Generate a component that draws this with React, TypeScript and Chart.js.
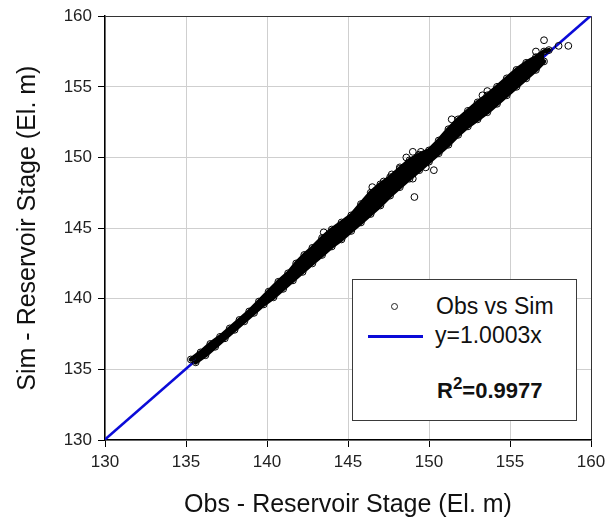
import React, { useEffect, useRef } from 'react';
import { Chart, registerables } from 'chart.js';

Chart.register(...registerables);

// Axis ticks
const axisMin = 130;
const axisMax = 160;
const tickStep = 5;

const upperObs = [135.3, 135.9, 136.5, 137.1, 137.7, 138.3, 138.9, 139.5, 140.1, 140.7, 141.3, 141.8, 142.3, 142.8, 143.4, 144.0, 144.6, 145.2, 145.8, 146.4, 147.0, 147.6, 148.2, 148.8, 149.4, 150.0, 150.6, 151.2, 151.8, 152.4, 153.0, 153.6, 154.2, 154.8, 155.4, 156.0, 156.6, 157.1, 157.4];
const upperSim = [135.7, 136.2, 136.8, 137.3, 137.9, 138.5, 139.1, 139.8, 140.5, 141.2, 141.8, 142.5, 143.1, 143.6, 144.3, 144.9, 145.4, 145.9, 146.7, 147.5, 148.1, 148.6, 149.2, 149.8, 150.2, 150.5, 151.2, 152.0, 152.7, 153.3, 153.9, 154.4, 155.0, 155.6, 156.2, 156.7, 157.1, 157.5, 157.6];

// Lower envelope of the cloud
const lowerObs = [135.6, 136.2, 136.8, 137.4, 138.0, 138.6, 139.2, 139.8, 140.4, 141.0, 141.6, 142.2, 142.8, 143.4, 144.0, 144.6, 145.2, 145.8, 146.4, 147.0, 147.6, 148.2, 148.8, 149.4, 150.0, 150.6, 151.2, 151.8, 152.4, 153.0, 153.6, 154.2, 154.8, 155.4, 156.0, 156.6, 157.1];
const lowerSim = [135.5, 136.0, 136.6, 137.2, 137.8, 138.4, 139.0, 139.6, 140.1, 140.7, 141.3, 141.9, 142.5, 143.1, 143.7, 144.2, 144.8, 145.4, 146.0, 146.6, 147.3, 147.9, 148.5, 149.1, 149.7, 150.3, 150.9, 151.6, 152.2, 152.7, 153.2, 153.8, 154.4, 155.0, 155.6, 156.2, 156.8];

// Isolated points
const outlierObs = [147.7, 148.2, 148.6, 149.0, 149.5, 149.0, 149.8, 150.3, 149.1, 157.1, 158.0, 158.6, 153.3, 153.6, 147.2, 146.5, 156.6, 143.5, 151.4];
const outlierSim = [148.8, 149.3, 150.0, 150.4, 150.4, 148.5, 149.3, 149.1, 147.2, 158.3, 157.9, 157.9, 154.4, 154.7, 148.3, 147.9, 157.5, 144.7, 152.7];

// Fitted line y = 1.0003x
const fitObs = [130, 160];
const fitSim = [130.04, 160.05];

const FONT = 'Arial, "Liberation Sans", sans-serif';

const pts = (xs: number[], ys: number[]) => xs.map((x, i) => ({ x, y: ys[i] }));

export default function App() {
  const canvasRef = useRef<HTMLCanvasElement | null>(null);

  useEffect(() => {
    document.body.style.margin = '0';
    const canvas = canvasRef.current;
    if (!canvas) return;

    const allPoints = [
      ...pts(upperObs, upperSim),
      ...pts(lowerObs, lowerSim),
      ...pts(outlierObs, outlierSim),
    ];

    const gridColor = (ctx: any) =>
      ctx.tick && ctx.tick.value === axisMax ? '#333333' : '#cfcfcf';

    const edgeLine = {
      borderColor: '#000000',
      borderWidth: 4.5,
      borderJoinStyle: 'round',
      borderCapStyle: 'round',
      pointRadius: 0,
      tension: 0,
    };

    const chart = new Chart(canvas, {
      type: 'line',
      data: {
        datasets: [
          {
            label: 'Obs vs Sim',
            data: allPoints,
            showLine: false,
            pointStyle: 'circle',
            pointRadius: 3.4,
            pointBorderWidth: 1,
            pointBorderColor: '#000000',
            pointBackgroundColor: 'rgba(255,255,255,0)',
            borderColor: '#000000',
          } as any,
          {
            label: 'cloud-upper',
            data: pts(upperObs, upperSim),
            ...edgeLine,
            fill: '+1',
            backgroundColor: '#000000',
          } as any,
          {
            label: 'cloud-lower',
            data: pts(lowerObs, lowerSim),
            ...edgeLine,
            fill: false,
          } as any,
          {
            label: 'y=1.0003x',
            data: pts(fitObs, fitSim),
            borderColor: '#0b0bd8',
            borderWidth: 2.6,
            pointRadius: 0,
            fill: false,
            tension: 0,
          },
        ],
      },
      options: {
        animation: false,
        responsive: false,
        events: [],
        layout: { padding: { left: 0, top: 16, right: 23, bottom: 0 } },
        plugins: {
          legend: { display: false },
          tooltip: { enabled: false },
        },
        scales: {
          x: {
            type: 'linear',
            min: axisMin,
            max: axisMax,
            ticks: {
              stepSize: tickStep,
              color: '#222222',
              font: { family: FONT, size: 17 },
              padding: 5,
              maxRotation: 0,
            },
            grid: {
              color: gridColor,
              tickColor: '#000000',
              tickLength: 7,
              lineWidth: 1,
            },
            border: { color: '#000000', width: 1.5 },
            title: {
              display: true,
              text: 'Obs - Reservoir Stage (El. m)',
              color: '#111111',
              font: { family: FONT, size: 25 },
              padding: { top: 0, bottom: 2 },
            },
            afterFit: (s: any) => {
              s.height = 82;
            },
          },
          y: {
            type: 'linear',
            min: axisMin,
            max: axisMax,
            ticks: {
              stepSize: tickStep,
              color: '#222222',
              font: { family: FONT, size: 17 },
              padding: 6,
            },
            grid: {
              color: gridColor,
              tickColor: '#000000',
              tickLength: 7,
              lineWidth: 1,
            },
            border: { color: '#000000', width: 1.5 },
            title: {
              display: true,
              text: 'Sim - Reservoir Stage (El. m)',
              color: '#111111',
              font: { family: FONT, size: 25 },
              padding: { top: 13, bottom: 0 },
            },
            afterFit: (s: any) => {
              s.width = 105;
            },
          },
        },
      } as any,
    });

    return () => chart.destroy();
  }, []);

  const textStyle: React.CSSProperties = {
    position: 'absolute',
    fontFamily: FONT,
    fontSize: 23,
    color: '#111',
    lineHeight: '26px',
    whiteSpace: 'nowrap',
  };

  return (
    <div style={{ position: 'relative', width: 614, height: 522 }}>
      <canvas ref={canvasRef} width={614} height={522} style={{ display: 'block' }} />
      <div
        style={{
          position: 'absolute',
          left: 352,
          top: 279,
          width: 223,
          height: 140,
          border: '1.5px solid #3a3a3a',
          background: '#ffffff',
        }}
      >
        <div
          style={{
            position: 'absolute',
            left: 38,
            top: 23,
            width: 5,
            height: 5,
            borderRadius: '50%',
            border: '1px solid #222',
          }}
        />
        <div
          style={{
            position: 'absolute',
            left: 15,
            top: 55,
            width: 55,
            height: 3,
            background: '#0b0bd8',
          }}
        />
        <div style={{ ...textStyle, left: 83, top: 13 }}>Obs vs Sim</div>
        <div style={{ ...textStyle, left: 82, top: 42 }}>y=1.0003x</div>
        <div style={{ ...textStyle, left: 84, top: 98, fontWeight: 'bold', fontSize: 22 }}>
          R<sup style={{ fontSize: 17, verticalAlign: 'baseline', position: 'relative', top: -9 }}>2</sup>=0.9977
        </div>
      </div>
    </div>
  );
}
